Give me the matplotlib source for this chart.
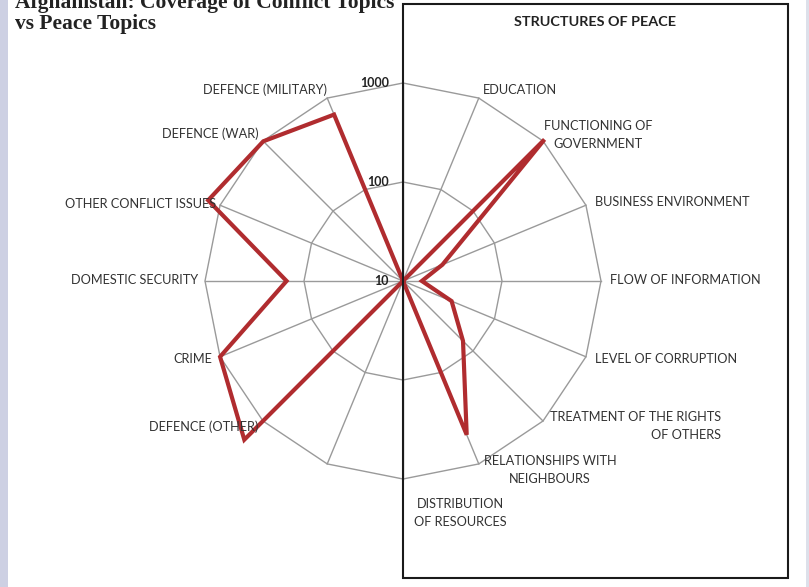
import numpy as np
import matplotlib
matplotlib.use("Agg")
import matplotlib.pyplot as plt
from matplotlib.patches import Rectangle

# ---- data (clockwise from top) ----
categories = ["", "EDUCATION", "FUNCTIONING OF\nGOVERNMENT", "BUSINESS ENVIRONMENT",
              "FLOW OF INFORMATION", "LEVEL OF CORRUPTION",
              "TREATMENT OF THE RIGHTS\nOF OTHERS", "RELATIONSHIPS WITH\nNEIGHBOURS",
              "DISTRIBUTION\nOF RESOURCES", "", "DEFENCE (OTHER)", "CRIME",
              "DOMESTIC SECURITY", "OTHER CONFLICT ISSUES", "DEFENCE (WAR)",
              "DEFENCE (MILITARY)"]
values = [10, 10, 1050, 27, 15.5, 34, 72, 480, 10, 10, 1850, 1000, 150, 1350, 990, 660]
tick_values = [10, 100, 1000]
tick_labels = ["10", "100", "1000"]

W, H = 809, 587
fig = plt.figure(figsize=(W / 100, H / 100), dpi=100)
fig.patch.set_facecolor("white")

def fx(x):
    return x / W

def fy(y):
    return 1 - y / H

# side strips
fig.patches.append(Rectangle((0, 0), fx(8), 1, transform=fig.transFigure,
                             facecolor="#CDD0E3", edgecolor="none", zorder=0))
fig.patches.append(Rectangle((fx(806), 0), 1, 1, transform=fig.transFigure,
                             facecolor="#DDE0EA", edgecolor="none", zorder=0))

# polar axes
cx, cy, R = 403, 281, 198
ax = fig.add_axes([fx(cx - R), fy(cy + R), 2 * R / W, 2 * R / H], projection="polar")
ax.set_theta_zero_location("N")
ax.set_theta_direction(-1)
ax.set_rscale("log")
ax.set_rlim(10, 1000)
ax.grid(False)
ax.set_xticks([])
ax.set_yticks([])
ax.spines["polar"].set_visible(False)
ax.patch.set_alpha(0)

n = len(categories)
angles = np.linspace(0, 2 * np.pi, n, endpoint=False)
closed = np.concatenate([angles, angles[:1]])

grid_col = "#9A9A9A"
for rv in [100, 1000]:
    ax.plot(closed, [rv] * (n + 1), color=grid_col, lw=1.0, zorder=1, clip_on=False)
for a in angles:
    ax.plot([a, a], [10, 1000], color=grid_col, lw=1.0, zorder=1, clip_on=False)

vals_closed = values + values[:1]
ax.plot(closed, vals_closed, color="#B02C2F", lw=3.0, zorder=3, clip_on=False,
        solid_joinstyle="miter")

for tv, tl in zip(tick_values, tick_labels):
    ax.annotate(tl, xy=(0, tv), xytext=(-14, 0), textcoords="offset pixels",
                ha="right", va="center", fontsize=9, fontweight="bold",
                family="Lato", color="#222222", annotation_clip=False, zorder=5)

# box "structures of peace"
fig.patches.append(Rectangle((fx(403), fy(578)), fx(788) - fx(403), fy(4) - fy(578),
                             transform=fig.transFigure, facecolor="none",
                             edgecolor="#1A1A1A", lw=1.5, zorder=10))
fig.text(fx(595), fy(22), "STRUCTURES OF PEACE", ha="center", va="center",
         fontsize=10.4, fontweight="bold", family="Lato", color="#222222")

# category labels
lab_pos = {
    "EDUCATION": (483, 90, "left"),
    "FUNCTIONING OF\nGOVERNMENT": (598, 135, "center"),
    "BUSINESS ENVIRONMENT": (595, 202, "left"),
    "FLOW OF INFORMATION": (610, 280, "left"),
    "LEVEL OF CORRUPTION": (595, 359, "left"),
    "TREATMENT OF THE RIGHTS\nOF OTHERS": (721, 426, "right"),
    "RELATIONSHIPS WITH\nNEIGHBOURS": (550, 470, "center"),
    "DISTRIBUTION\nOF RESOURCES": (460, 513, "center"),
    "DEFENCE (OTHER)": (258, 427, "right"),
    "CRIME": (212, 359, "right"),
    "DOMESTIC SECURITY": (198, 280, "right"),
    "OTHER CONFLICT ISSUES": (216, 204, "right"),
    "DEFENCE (WAR)": (259, 134, "right"),
    "DEFENCE (MILITARY)": (327, 90, "right"),
}
for cat in categories:
    if cat in lab_pos:
        x, y, ha = lab_pos[cat]
        fig.text(fx(x), fy(y), cat, ha=ha, va="center", multialignment=ha,
                 fontsize=9.2, family="Lato", color="#333333", linespacing=1.65,
                 zorder=4)

# title (partly cut off at the top)
fig.text(fx(15), fy(8), "Afghanistan: Coverage of Conflict Topics", ha="left",
         va="baseline", fontsize=15.5, fontweight="bold", family="Liberation Serif",
         color="#222222")
fig.text(fx(15), fy(29), "vs Peace Topics", ha="left", va="baseline",
         fontsize=15.5, fontweight="bold", family="Liberation Serif", color="#222222")

fig.savefig("out.png", dpi=100, facecolor="white")
